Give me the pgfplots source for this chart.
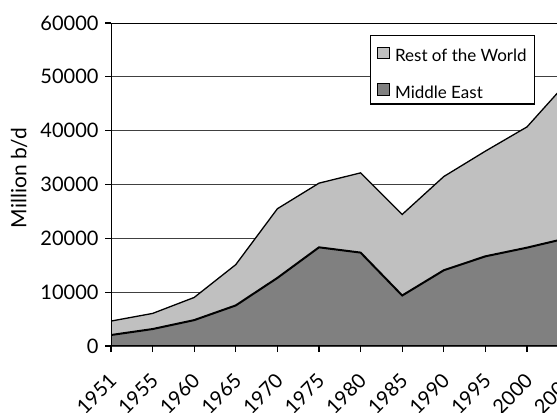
\documentclass[border=0pt]{standalone}
\usepackage{pgfplots}
\pgfplotsset{compat=1.18}
\usepackage{fontspec}
\setmainfont{Lato}
\definecolor{restc}{RGB}{192,192,192}
\definecolor{mec}{RGB}{128,128,128}
\begin{document}
\begin{tikzpicture}
\useasboundingbox (0,0) rectangle (557bp,413bp);
\clip (0,0) rectangle (557bp,413bp);
\begin{axis}[
  at={(111bp,67bp)}, anchor=south west,
  scale only axis, width=457.6bp, height=323bp,
  xmin=0, xmax=11, ymin=0, ymax=60000,
  xtick={0,1,...,11},
  xticklabels={1951,1955,1960,1965,1970,1975,1980,1985,1990,1995,2000,2005},
  ytick={0,10000,...,60000},
  scaled y ticks=false,
  /pgf/number format/1000 sep={},
  /pgf/number format/assume math mode=true,
  yticklabel style={font=\fontsize{20bp}{20bp}\selectfont, xshift=-3bp},
  xticklabel style={font=\fontsize{20bp}{20bp}\selectfont, rotate=45, anchor=north east, inner sep=0pt, xshift=-16.5bp, yshift=-11.8bp},
  ymajorgrids, grid style={black!75, line width=0.9bp},
  tick align=outside, major tick length=6bp,
  xtick pos=left, ytick pos=left,
  axis line style={line width=1bp},
  tick style={black, line width=1.2bp},
  ylabel={Million b/d},
  ylabel style={font=\fontsize{21bp}{21bp}\selectfont, at={(axis description cs:-0.201,0.52)}, anchor=center},
  legend cell align=left,
  legend style={at={(0.566,0.963)}, anchor=north west, draw=black, line width=1.2bp,
    font=\fontsize{17bp}{17bp}\selectfont, inner xsep=6bp, inner ysep=4bp, row sep=12.5bp,
    nodes={text height=20bp, text depth=0bp, inner ysep=2bp},
    cells={anchor=base west}},
  legend image code/.code={\draw[#1, draw=black, line width=1bp] (0bp,2.7bp) rectangle (12.5bp,14.3bp); \path (16bp,0bp);},
]
\addplot[fill=restc, draw=none] coordinates {(0,4630)(1,6050)(2,9020)(3,15120)(4,25500)(5,30250)(6,32160)(7,24440)(8,31480)(9,36200)(10,40700)(11,49300)} \closedcycle;
\addlegendentry{Rest of the World}
\addplot[fill=mec, draw=none] coordinates {(0,2040)(1,3150)(2,4810)(3,7540)(4,12650)(5,18330)(6,17350)(7,9380)(8,14070)(9,16660)(10,18270)(11,20100)} \closedcycle;
\addlegendentry{Middle East}
\addplot[black, line width=1.3bp, forget plot] coordinates {(0,4630)(1,6050)(2,9020)(3,15120)(4,25500)(5,30250)(6,32160)(7,24440)(8,31480)(9,36200)(10,40700)(11,49300)};
\addplot[black, line width=2bp, forget plot] coordinates {(0,2040)(1,3150)(2,4810)(3,7540)(4,12650)(5,18330)(6,17350)(7,9380)(8,14070)(9,16660)(10,18270)(11,20100)};
\draw[line width=2bp] (rel axis cs:0,1) -- (rel axis cs:0,0) -- (rel axis cs:1,0);
\end{axis}
\end{tikzpicture}
\end{document}
